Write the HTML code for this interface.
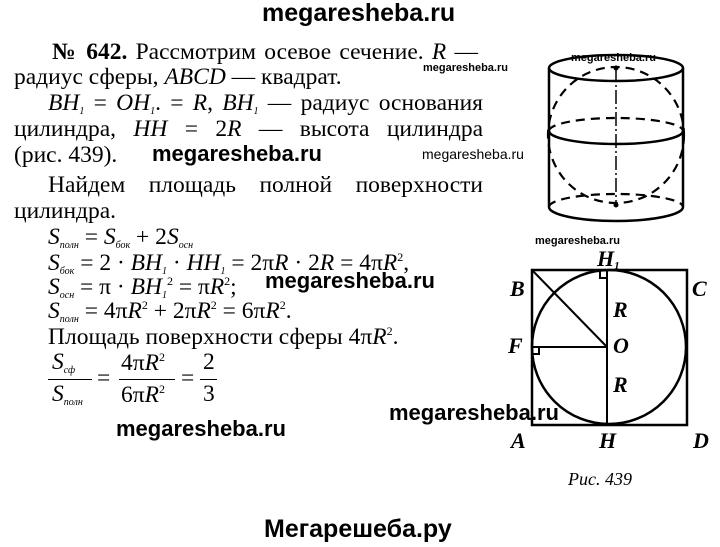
<!DOCTYPE html>
<html><head><meta charset="utf-8"><style>
body{margin:0;width:720px;height:547px;background:#fff;position:relative;overflow:hidden;font-family:"Liberation Serif",serif;color:#000}
.l{position:absolute;font-size:23.5px;white-space:nowrap;line-height:1}
.w{position:absolute;font-family:"Liberation Sans",sans-serif;font-weight:bold;white-space:nowrap;line-height:1}
i{font-style:italic}
sub{font-size:10px;font-style:italic;vertical-align:-4px}
sup{font-size:12px;vertical-align:9px}
.j{text-align:justify;text-align-last:justify;width:435px}
</style></head><body>
<div class="w" style="left:262px;top:1px;font-size:25px">megaresheba.ru</div>
<div class="w" style="left:264px;top:517px;font-size:25px">Мегарешеба.ру</div>

<div class="l j" style="left:52px;top:41px;width:426px"><b>№ 642.</b> Рассмотрим осевое сечение. <i>R</i> —</div>
<div class="w" style="left:423px;top:63px;font-size:11px">megaresheba.ru</div>
<div class="l" style="left:14px;top:66px">радиус сферы, <i>ABCD</i> — квадрат.</div>
<div class="l j" style="left:48px;top:92px"><i>BH</i><sub>1</sub> = <i>OH</i><sub>1</sub>. = <i>R</i>, <i>BH</i><sub>1</sub> — радиус основания</div>
<div class="l j" style="left:14px;top:118px;width:469px">цилиндра, <i>HH</i> = 2<i>R</i> — высота цилиндра</div>
<div class="l" style="left:14px;top:144px">(рис. 439).</div>
<div class="w" style="left:152px;top:143px;font-size:22px">megaresheba.ru</div>
<div class="w" style="left:422px;top:147px;font-size:14px;font-weight:normal">megaresheba.ru</div>
<div class="l j" style="left:48px;top:174px">Найдем площадь полной поверхности</div>
<div class="l" style="left:14px;top:200px">цилиндра.</div>
<div class="l" style="left:48px;top:226px"><i>S</i><sub>полн</sub> = <i>S</i><sub>бок</sub> + 2<i>S</i><sub>осн</sub></div>
<div class="l" style="left:48px;top:251px"><i>S</i><sub>бок</sub> = 2 · <i>BH</i><sub>1</sub> · <i>HH</i><sub>1</sub> = 2π<i>R</i> · 2<i>R</i> = 4π<i>R</i><sup>2</sup>,</div>
<div class="w" style="left:265px;top:270px;font-size:22px">megaresheba.ru</div>
<div class="l" style="left:48px;top:275px"><i>S</i><sub>осн</sub> = π · <i>BH</i><sub>1</sub><sup>2</sup> = π<i>R</i><sup>2</sup>;</div>
<div class="l" style="left:48px;top:299px"><i>S</i><sub>полн</sub> = 4π<i>R</i><sup>2</sup> + 2π<i>R</i><sup>2</sup> = 6π<i>R</i><sup>2</sup>.</div>
<div class="l" style="left:48px;top:325px">Площадь поверхности сферы 4π<i>R</i><sup>2</sup>.</div>
<div class="l" style="left:52px;top:351px"><i>S</i><sub>сф</sub></div>
<div class="l" style="left:52px;top:383px"><i>S</i><sub>полн</sub></div>
<div style="position:absolute;left:48px;top:379px;width:44px;height:1px;background:#000"></div>
<div class="l" style="left:97px;top:367px">=</div>
<div class="l" style="left:121px;top:351px">4π<i>R</i><sup>2</sup></div>
<div class="l" style="left:121px;top:383px">6π<i>R</i><sup>2</sup></div>
<div style="position:absolute;left:119px;top:379px;width:56px;height:1px;background:#000"></div>
<div class="l" style="left:181px;top:367px">=</div>
<div class="l" style="left:203px;top:351px">2</div>
<div class="l" style="left:203px;top:383px">3</div>
<div style="position:absolute;left:200px;top:379px;width:17px;height:1px;background:#000"></div>
<div class="w" style="left:116px;top:418px;font-size:22px">megaresheba.ru</div>
<div class="w" style="left:389px;top:402px;font-size:22px">megaresheba.ru</div>
<div class="w" style="left:535px;top:236px;font-size:11px">megaresheba.ru</div>
<div class="w" style="left:571px;top:53px;font-size:11px">megaresheba.ru</div>

<svg style="position:absolute;left:0;top:0" width="720" height="547">
<g fill="none" stroke="#000" stroke-width="2.5">
<ellipse cx="616" cy="68" rx="67" ry="13"/>
<path d="M549 68 V207 M683 68 V207"/>
<path d="M549 131 A67 13 0 0 0 683 131"/>
<path d="M549 207 A67 14 0 0 0 683 207"/>
</g>
<g fill="none" stroke="#000" stroke-width="2.2" stroke-dasharray="9,6">
<circle cx="616" cy="135" r="68"/>
<path d="M549 131 A67 13 0 0 1 683 131"/>
<path d="M549 207 A67 13 0 0 1 683 207"/>
</g>
<line x1="616" y1="68" x2="616" y2="205" stroke="#000" stroke-width="1.5" stroke-dasharray="14,3,2,3"/>
<circle cx="616" cy="68" r="2.5"/><circle cx="616" cy="205" r="2.5"/>
<g fill="none" stroke="#000" stroke-width="2.5">
<rect x="532" y="270" width="155" height="155"/>
<circle cx="609" cy="347" r="77"/>
</g>
<g stroke="#000" stroke-width="2" fill="none">
<line x1="607" y1="270" x2="607" y2="425"/>
<line x1="532" y1="347" x2="607" y2="347"/>
<line x1="532" y1="270" x2="607" y2="347"/>
<path d="M600 270 V278 H607 M532 354 H539 V347"/>
</g>
<g font-family="Liberation Serif,serif" font-style="italic" font-weight="bold" font-size="22">
<text x="510" y="296">B</text><text x="597" y="266">H<tspan font-size="11" dy="3">1</tspan></text>
<text x="692" y="296">C</text><text x="508" y="353">F</text>
<text x="613" y="353">O</text><text x="613" y="317">R</text><text x="613" y="392">R</text>
<text x="511" y="448">A</text><text x="599" y="448">H</text><text x="693" y="448">D</text>
<text x="568" y="485" font-weight="normal" font-size="18">Рис. 439</text>
</g>
</svg>
</body></html>
